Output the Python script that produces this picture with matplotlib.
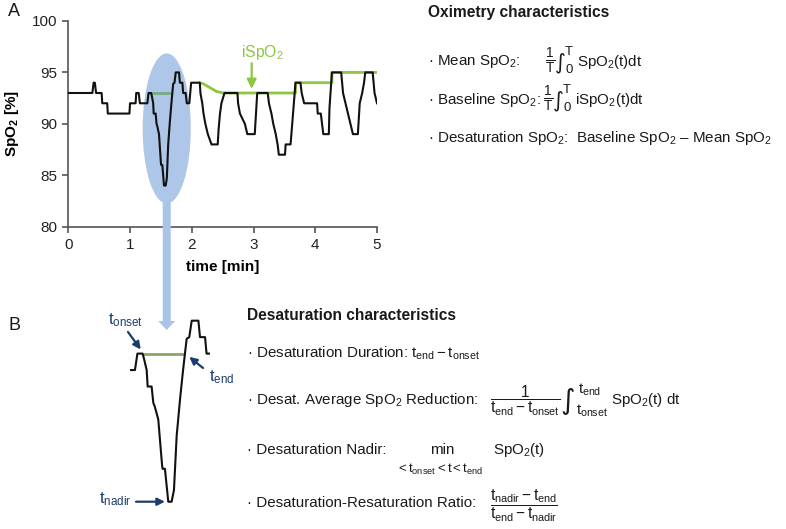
import numpy as np
import matplotlib
matplotlib.use("Agg")
import matplotlib.pyplot as plt
from matplotlib.patches import Ellipse, FancyArrow
from matplotlib.transforms import IdentityTransform

plt.rcParams['font.family'] = ['Liberation Sans', 'DejaVu Sans']
plt.rcParams['mathtext.fontset'] = 'custom'
plt.rcParams['mathtext.rm'] = 'Liberation Sans'
plt.rcParams['mathtext.it'] = 'Liberation Sans'
plt.rcParams['mathtext.bf'] = 'Liberation Sans:bold'
plt.rcParams['mathtext.sf'] = 'Liberation Sans'

# ---------------- data ----------------
time_min = [0.00, 0.39, 0.41, 0.43, 0.45, 0.54, 0.55, 0.63, 0.64, 0.99, 1.00, 1.09,
            1.10, 1.14, 1.16, 1.28,
            1.30, 1.342, 1.353, 1.375, 1.383, 1.415, 1.429, 1.44, 1.469, 1.50, 1.504,
            1.523, 1.55, 1.577, 1.596, 1.618, 1.645, 1.667, 1.685, 1.699, 1.72, 1.74,
            1.794, 1.807, 1.848, 1.86, 1.90, 1.92, 1.96, 1.99, 2.02, 2.13,
            2.14, 2.17, 2.19, 2.22, 2.26, 2.32, 2.42, 2.435, 2.457, 2.48, 2.51, 2.53,
            2.74, 2.75, 2.78, 2.82, 2.86, 2.90, 3.02, 3.04, 3.06, 3.23, 3.25, 3.29,
            3.32, 3.36, 3.39, 3.41, 3.51, 3.52, 3.60, 3.64, 3.68, 3.76, 3.78, 3.82,
            4.03, 4.04, 4.09, 4.13, 4.22, 4.23, 4.27, 4.42, 4.45, 4.49, 4.53, 4.57,
            4.61, 4.69, 4.72, 4.76, 4.79, 4.81, 4.93, 4.96, 5.00]
spo2 = [93, 93, 94, 94, 93, 93, 92, 92, 91, 91, 92, 92,
        93, 93, 92, 92,
        93, 93, 92.7, 92, 91, 91, 90, 89.8, 89, 86.2, 86,
        86, 84, 84, 84.7, 88, 90.2, 91.8, 93, 93.9, 94, 95,
        95, 94, 94, 93, 93, 92, 92, 94, 94, 94,
        93, 92, 91, 90, 89, 88, 88, 89.5, 91, 92, 92.6, 93,
        93, 92, 91, 90.5, 90, 89, 89, 91, 93, 93, 92, 91,
        90, 89, 88, 87, 87, 88, 88, 91, 94, 94, 93, 92,
        92, 91, 91, 89, 89, 91.5, 95, 95, 93, 92, 91, 90,
        89, 89, 92, 93, 94, 95, 95, 93, 92]

# iSpO2 (baseline) – desaturation event segment and the later baseline trace
event_time = [1.342, 1.685]
event_ispo2 = [93, 93]
ispo2_time = [2.13, 2.20, 2.30, 2.40, 2.51, 3.68, 3.68, 4.27, 4.27, 5.00]
ispo2 = [94, 93.85, 93.5, 93.15, 93, 93, 94, 94, 95, 95]

x_ticks = [0, 1, 2, 3, 4, 5]
y_ticks = [80, 85, 90, 95, 100]

BLACK = '#111111'
GREEN = '#8dc63f'
BLUE = '#a9c4e6'
NAVY = '#1d3c6e'
TXT = '#1a1a1a'

W, H = 786, 529
fig = plt.figure(figsize=(W / 100, H / 100), dpi=100)

# ---------------- panel A ----------------
ax = fig.add_axes([68.3 / W, (H - 226.7) / H, (377 - 68.3) / W, (226.7 - 21) / H])
ax.set_xlim(0, 5)
ax.set_ylim(80, 100)
ax.set_xticks(x_ticks)
ax.set_yticks(y_ticks)
for s in ['top', 'right']:
    ax.spines[s].set_visible(False)
for s in ['left', 'bottom']:
    ax.spines[s].set_color('#555555')
    ax.spines[s].set_linewidth(1.2)
ax.tick_params(direction='out', length=4, width=1.2, color='#555555', labelsize=11,
               labelcolor='#222222', pad=4)
ax.set_xlabel('time [min]', fontweight='bold', fontsize=11, labelpad=6)
ax.set_ylabel(r'SpO$_\mathbf{2}$ [%]', fontweight='bold', fontsize=11, labelpad=8)

ax.plot(event_time, event_ispo2, color=GREEN, lw=2.0, zorder=2, solid_capstyle='butt')
ax.plot(ispo2_time, ispo2, color=GREEN, lw=2.0, zorder=2)
ell_x, ell_y, ell_w, ell_h = 1.594, 89.55, 0.78, 14.6
ax.add_patch(Ellipse((ell_x, ell_y), ell_w, ell_h, facecolor='#5f8fd0', alpha=0.5,
                     edgecolor='none', zorder=2.5, clip_on=False))
ax.plot(time_min, spo2, color=BLACK, lw=1.5, zorder=3)

ax.annotate('', xy=(2.97, 93.4), xytext=(2.97, 95.9),
            arrowprops=dict(arrowstyle='-|>', color=GREEN, lw=1.6,
                            mutation_scale=14, shrinkA=0, shrinkB=0))
ax.text(2.80, 96.5, r'iSpO$_2$', color=GREEN, fontsize=11.3, ha='left', va='baseline')

# ---------------- panel B ----------------
b_top, b_bot = 314.1, 508.3
axb = fig.add_axes([130 / W, (H - b_bot) / H, 80 / W, (b_bot - b_top) / H])
axb.set_xlim(1.24, 1.888)
axb.set_ylim(83.6, 95.4)
axb.axis('off')
axb.plot(event_time, event_ispo2, color='#8ea463', lw=2.0, zorder=2, solid_capstyle='butt')
axb.plot(time_min, spo2, color=BLACK, lw=1.5, zorder=3)

arrow_kw = dict(arrowstyle='-|>', color=NAVY, lw=1.6, mutation_scale=11, shrinkA=0, shrinkB=0)
axb.annotate('', xy=(1.327, 93.25), xytext=(128, H - 332), textcoords='figure pixels',
             arrowprops=arrow_kw)
axb.text(126, H - 320, r'$t_{onset}$', transform=IdentityTransform(), color=NAVY,
         fontsize=12, ha='center', va='center')
axb.annotate('', xy=(1.72, 92.8), xytext=(203, H - 368), textcoords='figure pixels',
             arrowprops=arrow_kw)
axb.text(222, H - 377, r'$t_{end}$', transform=IdentityTransform(), color=NAVY,
         fontsize=12, ha='center', va='center')
axb.annotate('', xy=(1.523, 84.0), xytext=(136, H - 501.7), textcoords='figure pixels',
             arrowprops=arrow_kw)
axb.text(115, H - 499, r'$t_{nadir}$', transform=IdentityTransform(), color=NAVY,
         fontsize=12, ha='center', va='center')

# blue connector bar from ellipse to panel B
fig.canvas.draw()
x0, y0 = ax.transData.transform((ell_x, ell_y - ell_h / 2))
y1 = H - 330
fig.add_artist(FancyArrow(x0, y0 + 1, 0, y1 - y0 - 1, width=8, head_width=17, head_length=9,
                          length_includes_head=True, transform=IdentityTransform(),
                          facecolor=BLUE, edgecolor='none', zorder=5))

# ---------------- texts ----------------
FS = 10.9


def ftext(x, y, s, **kw):
    kw.setdefault('fontsize', FS)
    kw.setdefault('va', 'center')
    kw.setdefault('ha', 'left')
    kw.setdefault('color', TXT)
    fig.text(x / W, 1 - y / H, s, **kw)


def integral(x, y, size):
    ftext(x, y, '∫', fontsize=size, family='DejaVu Sans', ha='center')


ftext(8, 12, 'A', fontsize=13)
ftext(8, 325, 'B', fontsize=13)

ftext(428, 12, 'Oximetry characteristics', fontweight='bold', fontsize=11.2)
# Mean SpO2
ftext(428, 62, r'· Mean SpO$_2$:')
ftext(545, 61, r'$\frac{1}{T}$', fontsize=14)
integral(560, 63, 15)
ftext(565, 52, 'T', fontsize=9.5)
ftext(565, 70, '0', fontsize=9.5)
ftext(577, 62, r'SpO$_2$(t)dt')
# Baseline SpO2
ftext(428, 100, r'· Baseline SpO$_2$:')
ftext(543, 99, r'$\frac{1}{T}$', fontsize=14)
integral(558, 101, 15)
ftext(563, 90, 'T', fontsize=9.5)
ftext(563, 108, '0', fontsize=9.5)
ftext(575, 100, r'iSpO$_2$(t)dt')
# Desaturation SpO2
ftext(428, 138, r'· Desaturation SpO$_2$:  Baseline SpO$_2$ – Mean SpO$_2$')

ftext(247, 315, 'Desaturation characteristics', fontweight='bold', fontsize=11.2)
ftext(247, 353, r'· Desaturation Duration: $t_{end}-t_{onset}$')
# average reduction
ftext(247, 400, r'· Desat. Average SpO$_2$ Reduction:')
ftext(490, 401, r'$\dfrac{1}{t_{end}-t_{onset}}$', fontsize=11.2)
integral(568, 401, 20)
ftext(578, 390, r'$t_{end}$')
ftext(576, 411, r'$t_{onset}$')
ftext(611, 400, r'SpO$_2$(t) dt')
# nadir
ftext(247, 450, r'· Desaturation Nadir:')
ftext(442, 450, 'min', ha='center')
ftext(440, 469, r'$<t_{onset}<t<t_{end}$', ha='center', fontsize=9.5)
ftext(493, 450, r'SpO$_2$(t)')
# ratio
ftext(247, 503, r'· Desaturation-Resaturation Ratio:')
ftext(490, 506, r'$\dfrac{t_{nadir}-t_{end}}{t_{end}-t_{nadir}}$', fontsize=11.2)

fig.savefig('out.png', dpi=100)
